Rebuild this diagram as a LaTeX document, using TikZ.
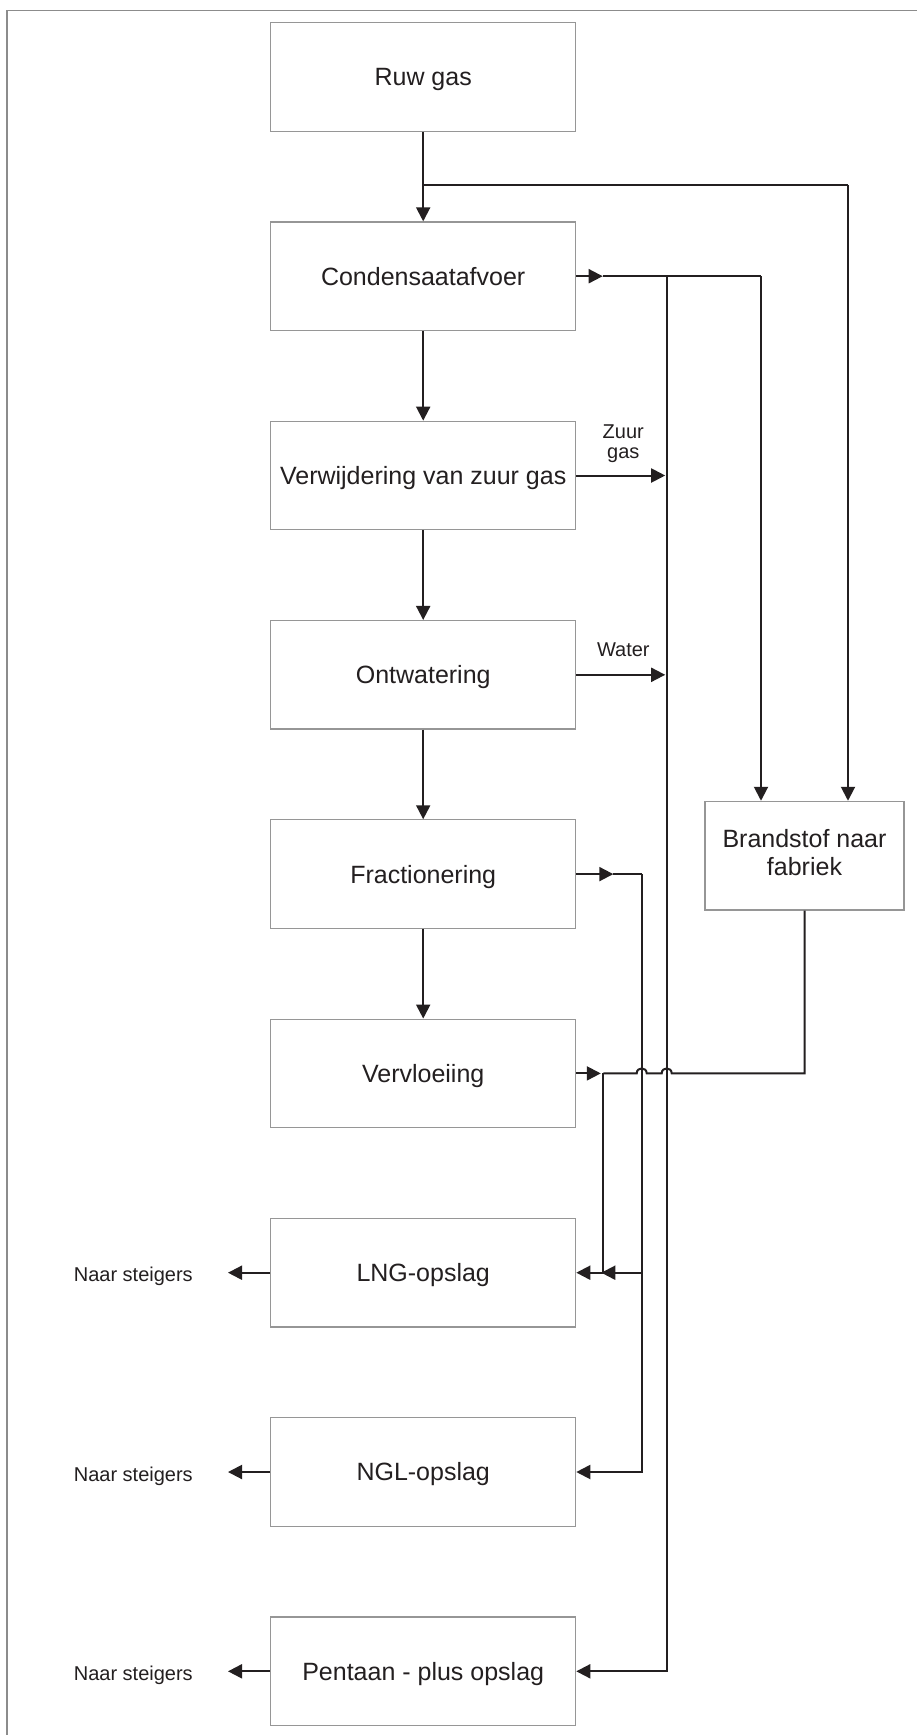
\documentclass[tikz,border=0pt]{standalone}
\usepackage{fontspec}
\setmainfont{Liberation Sans}
\usetikzlibrary{arrows.meta}
\definecolor{ink}{RGB}{35,31,32}
\definecolor{rim}{RGB}{150,150,150}
\definecolor{framec}{RGB}{140,140,140}

\begin{document}
\begin{tikzpicture}[x=1pt,y=-1pt,
  boxbase/.style={draw=rim,line width=1.2pt,inner sep=0pt,text=ink,
    font=\fontsize{25}{28}\selectfont},
  box/.style={boxbase,minimum width=305pt,minimum height=108.5pt,
    text height=17.9pt,text depth=0pt},
  flow/.style={draw=ink,line width=2pt},
  tip/.style={-{Triangle[length=14pt,width=14pt]}},
  small/.style={text=ink,font=\fontsize{20}{20}\selectfont,inner sep=0pt}]

% canvas and page frame
\useasboundingbox (0,0) rectangle (917,1735);
\fill[white] (0,0) rectangle (917,1735);
\draw[framec,line width=1.2pt] (7,1735) -- (7,10.7) -- (917,10.7);

% main process column
\node[box] (ruw)  at (423.2,76.9)   {Ruw gas};
\node[box] (cond) at (423.2,276.2)  {Condensaatafvoer};
\node[box] (verw) at (423.2,475.5)  {Verwijdering van zuur gas};
\node[box] (ontw) at (423.2,674.8)  {Ontwatering};
\node[box] (frac) at (423.2,874.1)  {Fractionering};
\node[box] (verv) at (423.2,1073.4) {Vervloeiing};
\node[box] (lng)  at (423.2,1272.7) {LNG-opslag};
\node[box] (ngl)  at (423.2,1472.0) {NGL-opslag};
\node[box] (pent) at (423.2,1671.3) {Pentaan - plus opslag};

% fuel box
\node[boxbase,minimum width=199pt,minimum height=108.7pt] (brand) at (804.5,855.7) {};
\node[text=ink,font=\fontsize{25}{28}\selectfont,align=center,inner sep=0pt,anchor=north]
  (brandtxt) at (804.5,828.7) {Brandstof naar\\fabriek};

% junction points
\coordinate (split) at (423.2,185);
\coordinate (fuelR) at (848,185);
\coordinate (cTip)  at (602.7,276.2);
\coordinate (cA)    at (666.7,276.2);
\coordinate (cB)    at (761,276.2);
\coordinate (fTip)  at (613.3,874.1);
\coordinate (fB)    at (641.7,874.1);
\coordinate (fL)    at (641.7,1272.7);
\coordinate (vJ)    at (603.3,1073.4);

% vertical chain
\draw[flow,tip] (ruw) -- (cond);
\draw[flow,tip] (cond) -- (verw);
\draw[flow,tip] (verw) -- (ontw);
\draw[flow,tip] (ontw) -- (frac);
\draw[flow,tip] (frac) -- (verv);

% raw gas bypass to fuel
\draw[flow] (split) -- (fuelR);
\draw[flow,tip] (fuelR) -- (fuelR |- brand.north);

% condensate outlet
\draw[flow,tip] (cond.east) -- (cTip);
\draw[flow] (cTip) -- (cB);
\draw[flow,tip] (cB) -- (cB |- brand.north);
\draw[flow,tip] (cA) |- (pent.east);

% sour gas and water
\draw[flow,tip,shorten >=1.5pt] (verw.east) -- (verw.east -| cA);
\draw[flow,tip,shorten >=1.5pt] (ontw.east) -- (ontw.east -| cA);
\node[small,align=center,anchor=north] (zuur) at (623.3,424.7) {Zuur\\gas};
\node[small,anchor=base] (water) at (623.3,656) {Water};

% fractionation outlet
\draw[flow,tip] (frac.east) -- (fTip);
\draw[flow] (fTip) -- (fB);
\draw[flow,tip] (fB) |- (ngl.east);
\draw[flow,tip,shorten >=-2pt] (fL) -- (vJ |- fL);

% liquefaction outlet
\draw[flow,tip,shorten >=2.5pt] (verv.east) -- (vJ);
\draw[flow,tip] (vJ) |- (lng.east);

% fuel return, hopping over the two risers
\draw[flow] (brand.south) -- (brand.south |- vJ) -- (671.7,1073.4)
  .. controls (671.7,1066.7) and (661.7,1066.7) .. (661.7,1073.4) -- (646.7,1073.4)
  .. controls (646.7,1066.7) and (636.7,1066.7) .. (636.7,1073.4) -- (vJ);

% storage to jetties
\coordinate (jL) at (228,1272.7);
\coordinate (jN) at (228,1472.0);
\coordinate (jP) at (228,1671.3);
\draw[flow,tip] (lng.west) -- (jL);
\draw[flow,tip] (ngl.west) -- (jN);
\draw[flow,tip] (pent.west) -- (jP);
\node[small,anchor=base] (nsL) at (133.3,1281.7) {Naar steigers};
\node[small,anchor=base] (nsN) at (133.3,1481.0) {Naar steigers};
\node[small,anchor=base] (nsP) at (133.3,1680.3) {Naar steigers};

\end{tikzpicture}
\end{document}
